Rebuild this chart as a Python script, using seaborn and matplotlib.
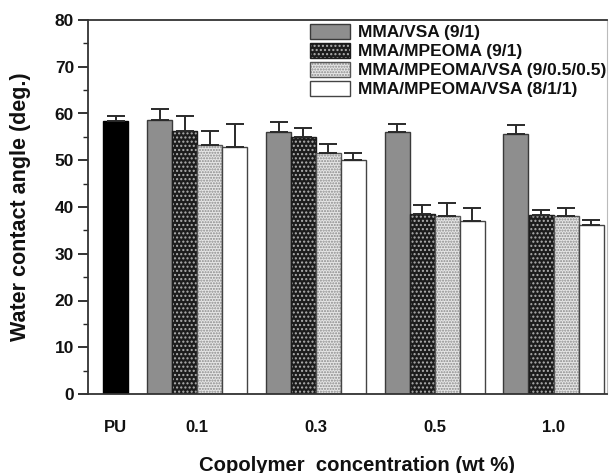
import numpy as np
import pandas as pd
import matplotlib
matplotlib.use("Agg")
import matplotlib.pyplot as plt
import matplotlib.colors as mcolors
from matplotlib.patches import Patch
import seaborn as sns

# ---------------- data ----------------
groups = ["PU", "0.1", "0.3", "0.5", "1.0"]
series = ["MMA/VSA (9/1)", "MMA/MPEOMA (9/1)",
          "MMA/MPEOMA/VSA (9/0.5/0.5)", "MMA/MPEOMA/VSA (8/1/1)"]
pu_value = 58.4
pu_err = 1.0
vsa = [58.7, 56.0, 56.1, 55.6]
vsa_err = [2.2, 2.2, 1.7, 1.9]
mpeoma = [56.3, 55.0, 38.4, 38.2]
mpeoma_err = [3.1, 1.8, 2.1, 1.2]
mix055 = [53.3, 51.6, 38.1, 38.0]
mix055_err = [3.0, 1.8, 2.7, 1.8]
mix811 = [52.8, 50.0, 37.1, 36.1]
mix811_err = [4.9, 1.5, 2.7, 1.2]

# ---------------- layout ----------------
group_centers = [1.1, 4.37, 9.12, 13.87, 18.62]
offsets = [-1.5, -0.5, 0.5, 1.5]

rows = [dict(pos=group_centers[0], value=pu_value, err=pu_err, series="PU")]
for s, vals, errs, off in zip(series, [vsa, mpeoma, mix055, mix811],
                              [vsa_err, mpeoma_err, mix055_err, mix811_err], offsets):
    for gc, v, e in zip(group_centers[1:], vals, errs):
        rows.append(dict(pos=round(gc + off, 3), value=v, err=e, series=s))
df = pd.DataFrame(rows)

styles = {
    "PU": dict(face="#000000", edge="#000000", hatch=None, hcol=None),
    series[0]: dict(face="#8e8e8e", edge="#3a3a3a", hatch=None, hcol=None),
    series[1]: dict(face="#1c1c1c", edge="#1c1c1c", hatch="....", hcol="#b0b0b0"),
    series[2]: dict(face="#e6e6e6", edge="#555555", hatch="......", hcol="#8a8a8a"),
    series[3]: dict(face="#ffffff", edge="#444444", hatch=None, hcol=None),
}
order = ["PU"] + series
palette = {k: styles[k]["face"] for k in order}

sns.set_style("ticks")
plt.rcParams["font.family"] = ["Liberation Sans", "DejaVu Sans"]
plt.rcParams["font.weight"] = "bold"
plt.rcParams["hatch.linewidth"] = 1.0

fig = plt.figure(figsize=(6.11, 4.73), dpi=100)
ax = fig.add_axes([88 / 611, 1 - 394 / 473, (607 - 88) / 611, (394 - 20) / 473])

sns.barplot(data=df, x="pos", y="value", hue="series", hue_order=order,
            palette=palette, native_scale=True, dodge=False, width=1.0,
            saturation=1, errorbar=None, legend=False, ax=ax,
            linewidth=1.0, edgecolor="#333333")

# style each bar by matching its centre to the data rows
for p in ax.patches:
    cx = p.get_x() + p.get_width() / 2
    row = df.iloc[(df["pos"] - cx).abs().argmin()]
    st = styles[row["series"]]
    p.set_edgecolor(st["edge"])
    if st["hatch"]:
        p.set_hatch(st["hatch"])
        p._hatch_color = mcolors.to_rgba(st["hcol"])

ax.errorbar(df["pos"], df["value"], yerr=[np.zeros(len(df)), df["err"]],
            fmt="none", ecolor="#2a2a2a", elinewidth=1.4, capsize=6.5,
            capthick=1.4, zorder=5)

# ---------------- axes ----------------
ax.set_xlim(0, 20.76)
ax.set_ylim(0, 80)
ax.set_yticks(np.arange(0, 81, 10))
ax.set_yticks(np.arange(5, 80, 10), minor=True)
ax.tick_params(axis="y", which="major", length=7, width=1.2, pad=3,
               labelsize=12.5, colors="#111111")
ax.tick_params(axis="y", which="minor", length=3.5, width=1.0)
ax.set_xticks(group_centers)
ax.set_xticklabels(groups)
ax.tick_params(axis="x", length=0, pad=19, labelsize=12, colors="#111111")
for lab in ax.get_xticklabels() + ax.get_yticklabels():
    lab.set_fontweight("bold")

for side in ["left", "bottom", "top"]:
    ax.spines[side].set_linewidth(1.3)
    ax.spines[side].set_color("#333333")
ax.spines["right"].set_linewidth(0.8)
ax.spines["right"].set_color("#bbbbbb")

ax.set_xlabel("")
ax.set_ylabel("Water contact angle (deg.)", fontsize=15.5, fontweight="bold",
              color="#111111")
ax.yaxis.set_label_coords((31 - 88) / 519, 0.5)
fig.text(357 / 611, 1 - 465 / 473, "Copolymer  concentration (wt %)",
         ha="center", va="center", fontsize=14.6, fontweight="bold", color="#111111")

# ---------------- legend ----------------
handles = []
for s in series:
    st = styles[s]
    h = Patch(facecolor=st["face"], edgecolor=st["edge"], hatch=st["hatch"],
              linewidth=1.0, label=s)
    if st["hatch"]:
        h._hatch_color = mcolors.to_rgba(st["hcol"])
    handles.append(h)
leg = ax.legend(handles=handles, loc="upper left",
                bbox_to_anchor=(310 / 611, 1 - 24 / 473), bbox_transform=fig.transFigure,
                frameon=False, fontsize=12.5, handlelength=2.3, handleheight=0.95,
                handletextpad=0.45, labelspacing=0.14, borderpad=0, borderaxespad=0)
for t in leg.get_texts():
    t.set_fontweight("bold")
    t.set_color("#111111")

fig.savefig("out.png", dpi=100)
